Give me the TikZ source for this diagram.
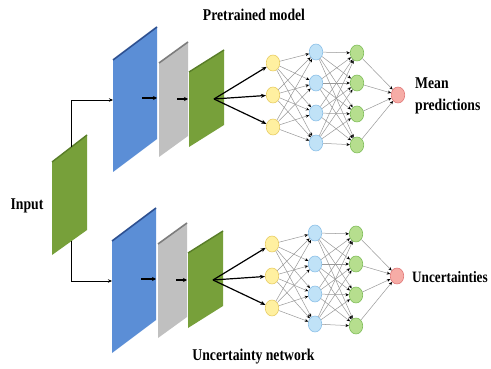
\documentclass[tikz,border=0pt]{standalone}
\usepackage{fontspec}
\setmainfont{Liberation Serif}
\usetikzlibrary{shapes.geometric,arrows.meta}
\definecolor{bluefill}{RGB}{91,142,214}
\definecolor{blueedge}{RGB}{45,80,145}
\definecolor{grayfill}{RGB}{192,192,192}
\definecolor{grayedge}{RGB}{125,125,125}
\definecolor{greenfill}{RGB}{119,160,58}
\definecolor{greenedge}{RGB}{88,125,40}
\definecolor{yfill}{RGB}{255,240,160}
\definecolor{ydraw}{RGB}{232,205,100}
\definecolor{bfill}{RGB}{192,226,247}
\definecolor{bdraw}{RGB}{140,192,232}
\definecolor{gfill}{RGB}{182,222,142}
\definecolor{gdraw}{RGB}{128,190,90}
\definecolor{rfill}{RGB}{246,172,166}
\definecolor{rdraw}{RGB}{226,122,122}
\newcommand{\lbl}[1]{\scalebox{1}[1.2]{#1}}
\tikzset{
  lab/.style={font=\fontsize{13.7}{22}\selectfont\bfseries, inner sep=0pt},
  neuron/.style={ellipse, minimum width=13.5pt, minimum height=16pt, inner sep=0pt, line width=0.6pt},
  yel/.style={neuron, fill=yfill, draw=ydraw},
  hid/.style={neuron, fill=bfill, draw=bdraw},
  grn/.style={neuron, fill=gfill, draw=gdraw},
  outn/.style={neuron, fill=rfill, draw=rdraw},
  edge/.style={draw=gray!80, line width=0.5pt, -{Stealth[length=3.5pt,width=3pt,color=black]}},
  fan/.style={black, line width=1.2pt, -{Stealth[length=5pt,width=4pt]}},
  link/.style={black, line width=0.9pt, -{Stealth[length=4pt,width=3.5pt]}},
  inner/.style={black, line width=1.3pt, -{Stealth[length=4pt,width=4pt]}},
  branch/.pic={
    % blue layer
    \fill[bluefill] (113,60)--(157,27)--(157,139)--(113,172)--cycle;
    \draw[blueedge, line width=1.6pt] (113,60)--(157,27);
    % gray layer
    \fill[grayfill] (159,63)--(188,42)--(188,136)--(159,157)--cycle;
    \draw[grayedge, line width=1.6pt] (159,63)--(188,42);
    % green layer
    \fill[greenfill] (189,72)--(224,50)--(224,125)--(189,147)--cycle;
    \draw[greenedge, line width=1.4pt] (189,72)--(224,50);
    \coordinate (-bin) at (113,100);
    \coordinate (-a1) at (142,98);
    \coordinate (-a2) at (157,98);
    \coordinate (-a3) at (177,99);
    \coordinate (-a4) at (188,99);
    \coordinate (-gc) at (214,99);
    \draw[inner] (-a1) -- (-a2);
    \draw[inner] (-a3) -- (-a4);
    \foreach \i/\y in {1/63,2/95,3/127} \node[yel] (-y\i) at (273,\y) {};
    \foreach \i/\y in {1/52,2/83,3/113,4/143} \node[hid] (-h\i) at (316,\y) {};
    \foreach \i/\y in {1/53,2/83,3/114,4/145} \node[grn] (-g\i) at (357,\y) {};
    \node[outn] (-o) at (398,95) {};
    \foreach \i in {1,2,3} \draw[fan] (-gc) -- (-y\i);
    \foreach \i in {1,2,3} \foreach \j in {1,2,3,4} \draw[edge] (-y\i) -- (-h\j);
    \foreach \i in {1,2,3,4} \foreach \j in {1,2,3,4} \draw[edge] (-h\i) -- (-g\j);
    \foreach \i in {1,2,3,4} \draw[edge] (-g\i) -- (-o);
  }
}
\begin{document}
\begin{tikzpicture}[x=1pt,y=-1pt]
\useasboundingbox[fill=white] (0,0) rectangle (491,369);
% input layer
\fill[greenfill] (52,162)--(87,135)--(87,230)--(52,255)--cycle;
\draw[greenedge, line width=1.4pt] (52,162)--(87,135);
\coordinate (intop) at (71,147);
\coordinate (inbot) at (71,241);
\pic (top) at (0,0) {branch};
\pic (bot) at (-1,181) {branch};
\draw[link] (intop) |- (top-bin);
\draw[link] (inbot) |- (bot-bin);
\node[lab] (pm) at (254,15) {\lbl{Pretrained model}};
\node[lab] (un) at (253.5,357) {\lbl{Uncertainty network}};
\node[lab] (inp) at (27,206) {\lbl{Input}};
\node[lab, anchor=west, align=left] (mp) at (415,96) {\lbl{Mean}\\\lbl{predictions}};
\node[lab, anchor=west, font=\fontsize{13.2}{22}\selectfont\bfseries] (unc) at (412,277) {\lbl{Uncertainties}};
\end{tikzpicture}
\end{document}
